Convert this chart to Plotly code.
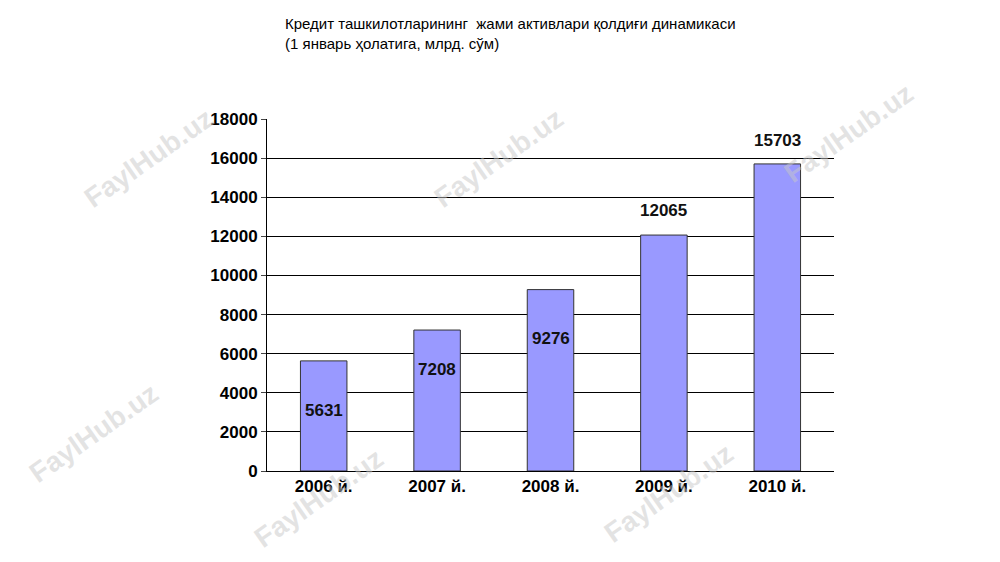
import plotly.graph_objects as go

categories = ["2006 й.", "2007 й.", "2008 й.", "2009 й.", "2010 й."]
values = [5631, 7208, 9276, 12065, 15703]
label_y = [3100, 5200, 6800, 13300, 16900]

fig = go.Figure(go.Bar(x=categories, y=values, width=0.41,
                       marker=dict(color="#9999FF", line=dict(color="#333333", width=1))))
for c, v, ly in zip(categories, values, label_y):
    fig.add_annotation(x=c, y=ly, text=f"<b>{v}</b>", showarrow=False,
                       font=dict(family="Liberation Sans Narrow, Arial", size=17, color="#111111"))

fig.add_annotation(xref="paper", yref="paper", x=0.028, y=1.3, xanchor="left", yanchor="top",
                   align="left", showarrow=False,
                   text="Кредит ташкилотларининг  жами активлари қолдиғи динамикаси<br>(1 январь ҳолатига, млрд. сўм)",
                   font=dict(family="Liberation Sans, Arial", size=15, color="black"))

L, T, W, H = 259, 111, 567, 352
for (px, py) in [(140, 150), (490, 150), (840, 125), (85, 425), (310, 490), (660, 485)]:
    fig.add_annotation(xref="paper", yref="paper", x=(px-L)/W, y=(T+H-py)/H, text="<b>FaylHub.uz</b>",
                       showarrow=False, textangle=-35, xanchor="center", yanchor="middle",
                       font=dict(family="Liberation Sans, Arial", size=28, color="rgba(200,200,200,0.5)"))

fig.update_layout(
    width=1000, height=562, paper_bgcolor="white", plot_bgcolor="white",
    margin=dict(l=L, r=1000-L-W, t=T, b=562-T-H), showlegend=False, bargap=0.59,
    font=dict(family="Liberation Sans Narrow, Arial", size=17, color="black"),
)
fig.update_xaxes(showline=True, linecolor="black", ticks="", tickfont=dict(size=17),
                 tickprefix="<b>", ticksuffix="</b>")
fig.update_yaxes(range=[0, 18000], dtick=2000, tickformat="d", showgrid=True, gridcolor="black", gridwidth=1,
                 showline=True, linecolor="black", ticks="outside", ticklen=5, zeroline=False,
                 tickprefix="<b>", ticksuffix="</b>", tickfont=dict(size=17))
fig.write_html("out.html")
